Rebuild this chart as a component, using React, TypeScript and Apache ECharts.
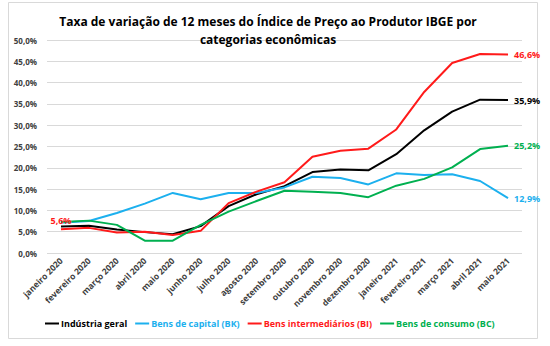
import React, { useEffect, useRef } from "react";
import * as echarts from "echarts";

const categories = [
  "janeiro 2020", "fevereiro 2020", "março 2020", "abril 2020", "maio 2020", "junho 2020",
  "julho 2020", "agosto 2020", "setembro 2020", "outubro 2020", "novembro 2020", "dezembro 2020",
  "janeiro 2021", "fevereiro 2021", "março 2021", "abril 2021", "maio 2021",
];

const industriaGeral = [6.2, 6.4, 5.5, 4.9, 4.4, 6.3, 11.0, 13.8, 15.7, 19.0, 19.6, 19.4, 23.2, 28.8, 33.2, 36.0, 35.9];
const bensCapital = [7.1, 7.5, 9.4, 11.6, 14.1, 12.6, 14.1, 14.1, 15.4, 17.9, 17.6, 16.1, 18.7, 18.3, 18.5, 16.9, 12.9];
const bensIntermediarios = [5.6, 5.9, 4.8, 5.0, 4.2, 5.2, 11.7, 14.4, 16.6, 22.6, 24.0, 24.5, 29.0, 37.8, 44.6, 46.7, 46.6];
const bensConsumo = [7.3, 7.6, 6.6, 2.9, 2.9, 6.6, 9.7, 12.2, 14.6, 14.4, 14.1, 13.1, 15.8, 17.4, 20.1, 24.4, 25.2];

const seriesNames = [
  "Indústria geral",
  "Bens de capital (BK)",
  "Bens intermediários (BI)",
  "Bens de consumo (BC)",
];
const colors = ["#000000", "#1CB0EE", "#FF1A1A", "#00B050"];

const fmt = (v: number) => v.toFixed(1).replace(".", ",") + "%";

export default function App() {
  const ref = useRef<HTMLDivElement>(null);
  useEffect(() => {
    if (!ref.current) return;
    const chart = echarts.init(ref.current, undefined, { renderer: "svg" });
    const font = "'Open Sans', 'Noto Sans', sans-serif";
    const allData = [industriaGeral, bensCapital, bensIntermediarios, bensConsumo];
    const series = allData.map((arr, si) => ({
      name: seriesNames[si],
      type: "line",
      symbol: "circle",
      symbolSize: 0,
      showSymbol: true,
      showAllSymbol: true,
      lineStyle: { width: 2, color: colors[si] },
      itemStyle: { color: colors[si] },
      emphasis: { disabled: true },
      data: arr.map((v, i) => {
        const last = i === arr.length - 1;
        const firstRed = si === 2 && i === 0;
        if (last || firstRed) {
          return {
            value: v,
            label: {
              show: true,
              position: last ? "right" : "top",
              distance: last ? 6 : 4,
              formatter: (p: any) => fmt(p.value),
              color: colors[si],
              fontWeight: "bold",
              fontSize: 9,
              fontFamily: font,
            },
          };
        }
        return v;
      }),
    }));
    chart.setOption({
      animation: false,
      backgroundColor: "#ffffff",
      title: {
        text: "Taxa de variação de 12 meses do Índice de Preço ao Produtor IBGE por\ncategorias econômicas",
        left: 263,
        top: 7,
        textAlign: "center",
        textStyle: {
          fontFamily: font,
          fontSize: 12,
          fontWeight: "bold",
          color: "#000000",
          lineHeight: 18,
        },
      },
      graphic: [
        {
          type: "rect",
          shape: { x: 8.5, y: 2.5, width: 529, height: 336 },
          style: { fill: "none", stroke: "#d9d9d9", lineWidth: 1 },
          z: -1,
        },
      ],
      legend: {
        bottom: 13,
        left: 40,
        width: 500,
        icon: "rect",
        itemWidth: 14,
        itemHeight: 2,
        itemGap: 8,
        data: seriesNames.map((n, i) => ({
          name: n,
          textStyle: { color: colors[i] },
        })),
        textStyle: { fontFamily: font, fontSize: 9, fontWeight: "bold", padding: [0, 0, 0, -3] },
      },
      grid: { left: 47, right: 28, top: 40, bottom: 93 },
      xAxis: {
        type: "category",
        data: categories,
        boundaryGap: true,
        axisLine: { show: false },
        axisTick: { show: false },
        axisLabel: {
          rotate: 45,
          interval: 0,
          fontFamily: font,
          fontSize: 8.5,
          fontWeight: "bold",
          color: "#404040",
          margin: 6,
        },
      },
      yAxis: {
        type: "value",
        min: 0,
        max: 50,
        interval: 5,
        axisLine: { show: false },
        axisTick: { show: false },
        splitLine: { lineStyle: { color: "#d9d9d9", width: 1 } },
        axisLabel: {
          formatter: (v: number) => fmt(v),
          fontFamily: font,
          fontSize: 8,
          fontWeight: "bold",
          color: "#404040",
          margin: 10,
        },
      },
      series,
    });
    return () => chart.dispose();
  }, []);
  return <div ref={ref} style={{ width: 550, height: 346, position: "absolute", left: 0, top: 0 }} />;
}
